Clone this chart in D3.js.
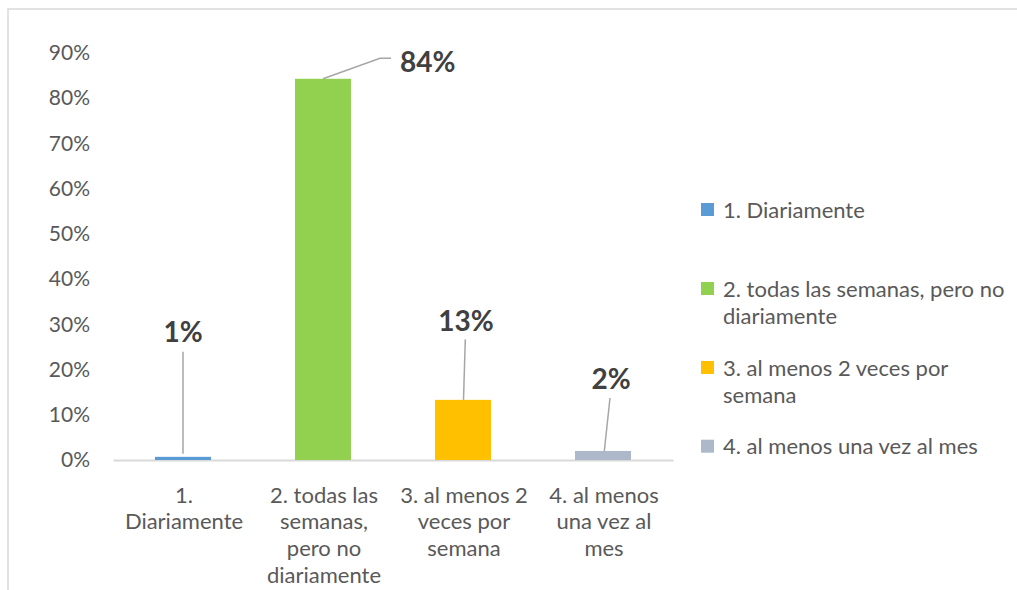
<!DOCTYPE html>
<html><head><meta charset="utf-8">
<script src="https://cdn.jsdelivr.net/npm/d3@7"></script>
<style>body{margin:0;background:#fff}svg{display:block}</style>
</head><body><svg id="c" width="1017" height="590"></svg>
<script>
const categories = ["1. Diariamente","2. todas las semanas, pero no diariamente","3. al menos 2 veces por semana","4. al menos una vez al mes"];
const categoryLines = [["1.","Diariamente"],["2. todas las","semanas,","pero no","diariamente"],["3. al menos 2","veces por","semana"],["4. al menos","una vez al","mes"]];
const legendLines = [["1. Diariamente"],["2. todas las semanas, pero no","diariamente"],["3. al menos 2 veces por","semana"],["4. al menos una vez al mes"]];
const values = [0.007, 0.843, 0.133, 0.020];
const valueLabels = ["1%","84%","13%","2%"];
const colors = ["#5b9bd5","#92d050","#ffc000","#adb9ca"];
const yTicks = [0,0.1,0.2,0.3,0.4,0.5,0.6,0.7,0.8,0.9];

// label layout (offsets from bar top center), leader line points
const labelLayout = [
  {dx:0, y:332, anchor:"middle", line:[[0,-3],[0,-105]]},
  {dx:0, y:62, anchor:"start", lx:400, line:[[0,0],[57,-20.5],[68,-20.5]]},
  {dx:3, y:321, anchor:"middle", line:[[0.5,0],[2.3,-60.5]]},
  {dx:8, y:379, anchor:"middle", line:[[1.3,0],[7,-53]]}
];

const svg = d3.select("#c");
svg.append("rect").attr("x",8).attr("y",9).attr("width",1200).attr("height",800)
  .attr("fill","#fff").attr("stroke","#d9d9d9").attr("stroke-width",1.5);

const x = d3.scaleBand().domain(categories).range([113,673]).paddingInner(0.6).paddingOuter(0.3);
const y = d3.scaleLinear().domain([0,0.9]).range([460,53]);

const font = "Lato, 'Open Sans', sans-serif";

// y axis labels
const yAxis = d3.axisLeft(y).tickValues(yTicks).tickFormat(d3.format(".0%")).tickSize(0).tickPadding(0);
const ga = svg.append("g").attr("transform","translate(90,0)").call(yAxis);
ga.select(".domain").remove();
ga.selectAll("text").attr("fill","#595959").style("font-family",font).style("font-size","21px");

// baseline
const xAxis = d3.axisBottom(x).tickSize(0).tickFormat("");
const gx = svg.append("g").attr("transform","translate(0,460)").call(xAxis);
gx.select(".domain").attr("stroke","#d9d9d9").attr("stroke-width",2);

// bars
svg.append("g").selectAll("rect").data(values).join("rect")
  .attr("x",(d,i)=>x(categories[i]))
  .attr("width",x.bandwidth())
  .attr("y",d=>y(d))
  .attr("height",d=>y(0)-y(d))
  .attr("fill",(d,i)=>colors[i]);

// category labels
const cl = svg.append("g");
categoryLines.forEach((lines,i)=>{
  const cx = x(categories[i]) + x.bandwidth()/2 + 1;
  const t = cl.append("text").attr("text-anchor","middle").attr("fill","#595959")
    .style("font-family",font).style("font-size","22px");
  lines.forEach((ln,j)=>{
    t.append("tspan").attr("x",cx).attr("y",495+j*26.6).attr("dy","0.35em").text(ln);
  });
});

// leader lines & data labels
values.forEach((v,i)=>{
  const L = labelLayout[i];
  const cx = x(categories[i]) + x.bandwidth()/2;
  const top = y(v);
  const pts = L.line.map(p=>[cx+p[0], top+p[1]]);
  svg.append("path").attr("d",d3.line()(pts)).attr("fill","none")
    .attr("stroke","#a6a6a6").attr("stroke-width",1.5);
  svg.append("text").attr("x", L.lx!==undefined ? L.lx : cx+L.dx).attr("y",L.y).attr("dy","0.35em")
    .attr("text-anchor",L.anchor).attr("fill","#404040")
    .style("font-family",font).style("font-size","28px").style("font-weight","bold")
    .text(valueLabels[i]);
});

// legend
const legY = [210, 289, 368, 446.7];
const lg = svg.append("g");
legendLines.forEach((lines,i)=>{
  lg.append("rect").attr("x",701).attr("y",legY[i]-7).attr("width",13).attr("height",13).attr("fill",colors[i]);
  const t = lg.append("text").attr("fill","#595959").style("font-family",font).style("font-size","22px");
  lines.forEach((ln,j)=>{
    t.append("tspan").attr("x",723).attr("y",legY[i]+j*27.7).attr("dy","0.35em").text(ln);
  });
});
</script></body></html>
